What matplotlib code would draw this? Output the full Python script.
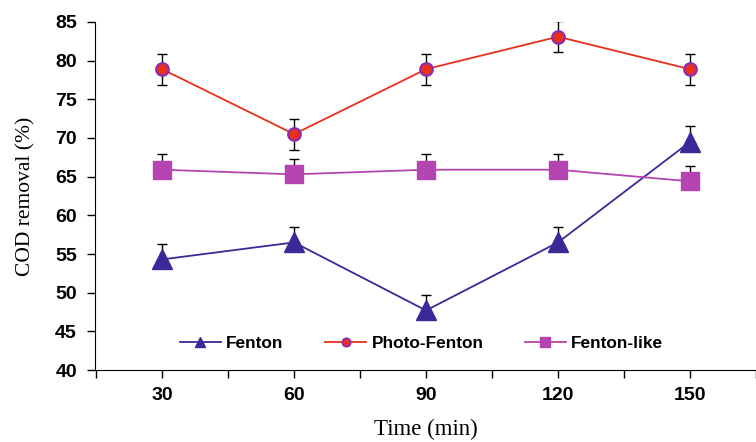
import matplotlib.pyplot as plt
import numpy as np

# Time points and COD removal values
time = [30, 60, 90, 120, 150]
fenton = [54.3, 56.5, 47.7, 56.5, 69.5]
photo_fenton = [78.9, 70.5, 78.9, 83.1, 78.9]
fenton_like = [65.9, 65.3, 65.9, 65.9, 64.4]
err = [2, 2, 2, 2, 2]

c_fenton = '#3a2997'
c_photo = '#e8301c'
c_photo_edge = '#8b2db0'
c_like = '#b444b0'

fig = plt.figure(figsize=(7.56, 4.42), dpi=100)
ax = fig.add_axes([95 / 756, 1 - 370 / 442, 661 / 756, 348 / 442])

# error bars (upper only for Fenton and Fenton-like)
ebkw = dict(fmt='none', ecolor='black', elinewidth=1, capsize=3.8, capthick=1, zorder=1)
ax.errorbar(time, photo_fenton, yerr=err, **ebkw)
ax.errorbar(time, fenton_like, yerr=[np.zeros(5), err], **ebkw)
ax.errorbar(time, fenton, yerr=[np.zeros(5), err], **ebkw)

ax.plot(time, fenton, color=c_fenton, lw=1.3, marker='^', ms=14, mfc=c_fenton, mec=c_fenton, zorder=3)
ax.plot(time, photo_fenton, color=c_photo, lw=1.3, marker='o', ms=9, mfc=c_photo, mec=c_photo_edge, mew=1.6, zorder=3)
ax.plot(time, fenton_like, color=c_like, lw=1.3, marker='s', ms=13, mfc=c_like, mec=c_like, zorder=3)

# legend handles with smaller markers
h1, = ax.plot([], [], color=c_fenton, lw=1.3, marker='^', ms=7, mfc=c_fenton, mec=c_fenton)
h2, = ax.plot([], [], color=c_photo, lw=1.3, marker='o', ms=6, mfc=c_photo, mec=c_photo_edge, mew=1.3)
h3, = ax.plot([], [], color=c_like, lw=1.3, marker='s', ms=7, mfc=c_like, mec=c_like)
leg = ax.legend([h1, h2, h3], ['Fenton', 'Photo-Fenton', 'Fenton-like'], ncol=3, frameon=False,
                loc='center', bbox_to_anchor=(0.494, 0.077), handlelength=2.4, handletextpad=0.3,
                columnspacing=2.4, prop={'family': 'Liberation Sans', 'weight': 'bold', 'size': 12.4})

ax.set_xlim(14.75, 163)
ax.set_ylim(40, 85)
ax.set_xticks(np.arange(15, 166, 15))
ax.set_xticklabels(['' if t % 30 else str(t) for t in range(15, 166, 15)])
ax.set_yticks(np.arange(40, 86, 5))
for lab in ax.get_xticklabels() + ax.get_yticklabels():
    lab.set_family('Liberation Sans')
    lab.set_fontweight('bold')
    lab.set_fontsize(14)
ax.tick_params(axis='x', length=6, width=1, pad=6)
ax.tick_params(axis='y', length=6, width=1, pad=7)
ax.spines['top'].set_visible(False)
ax.spines['right'].set_visible(False)

ax.set_xlabel('Time (min)', family='Liberation Serif', fontsize=16.5, labelpad=11)
ax.set_ylabel('COD removal (%)', family='Liberation Serif', fontsize=15.5, labelpad=14)

fig.savefig('out.png', dpi=100)
